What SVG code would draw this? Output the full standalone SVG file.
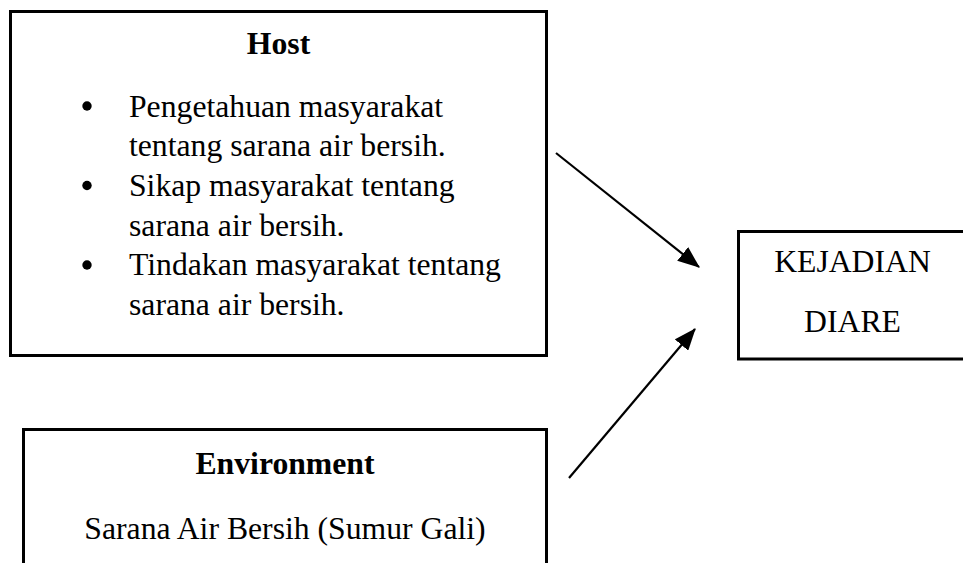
<svg xmlns="http://www.w3.org/2000/svg" width="963" height="563" viewBox="0 0 963 563">
<style>
.box{fill:#fff;stroke:#000;stroke-width:3}
.t{font-family:"Liberation Serif","Times New Roman",serif;font-size:31.7px;fill:#000}
.b{font-weight:bold}
.c{text-anchor:middle}
.con{stroke:#000;stroke-width:2.2;fill:none}
</style>
<defs>
<marker id="ah" markerWidth="10" markerHeight="8" refX="9.5" refY="4" orient="auto" markerUnits="strokeWidth">
<path d="M0,0 L10,4 L0,8 z" fill="#000"/>
</marker>
</defs>
<rect width="963" height="563" fill="#fff"/>
<g id="host">
<rect class="box" x="10.5" y="11.5" width="536" height="344"/>
<text class="t b c" x="278.5" y="54">Host</text>
<circle cx="87" cy="106" r="4.7"/>
<circle cx="87" cy="185.5" r="4.7"/>
<circle cx="87" cy="265" r="4.7"/>
<text class="t" x="129" y="116.5">Pengetahuan masyarakat</text>
<text class="t" x="129" y="156.2">tentang sarana air bersih.</text>
<text class="t" x="129" y="195.9">Sikap masyarakat tentang</text>
<text class="t" x="129" y="235.6">sarana air bersih.</text>
<text class="t" x="129" y="275.3">Tindakan masyarakat tentang</text>
<text class="t" x="129" y="315">sarana air bersih.</text>
</g>
<g id="environment">
<rect class="box" x="23.5" y="429.5" width="523" height="160"/>
<text class="t b c" x="285" y="474">Environment</text>
<text class="t c" x="285" y="539">Sarana Air Bersih (Sumur Gali)</text>
</g>
<g id="kejadian">
<rect class="box" x="738.5" y="231.5" width="260" height="127.5"/>
<text class="t c" x="852.5" y="271.5">KEJADIAN</text>
<text class="t c" x="852.5" y="331.5">DIARE</text>
</g>
<g id="connectors">
<line class="con" x1="556" y1="153" x2="699" y2="267" marker-end="url(#ah)"/>
<line class="con" x1="569" y1="478" x2="695" y2="329" marker-end="url(#ah)"/>
</g>
</svg>
